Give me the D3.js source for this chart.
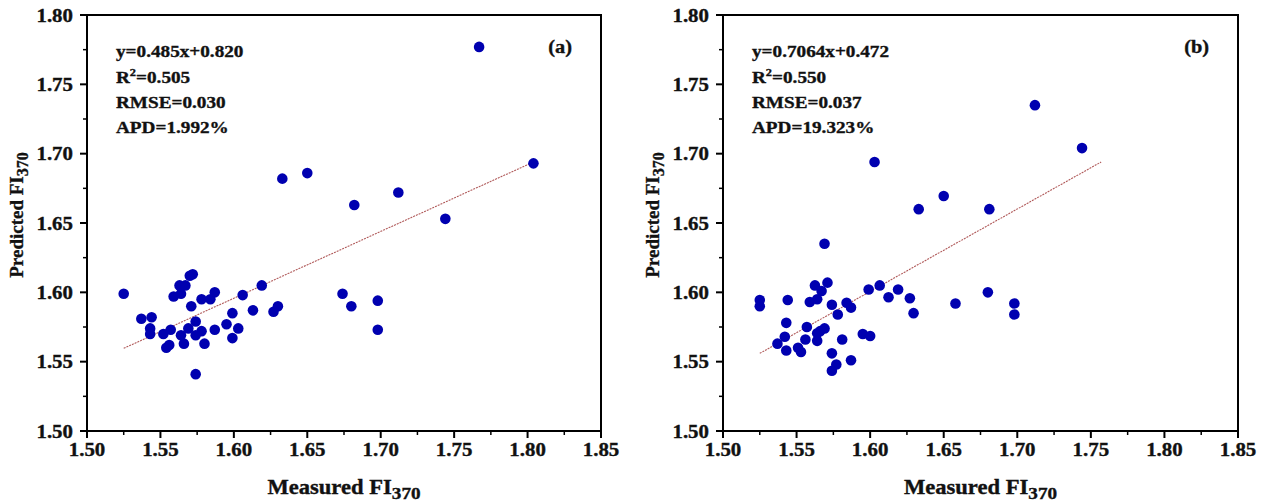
<!DOCTYPE html>
<html>
<head>
<meta charset="utf-8">
<script src="https://cdn.jsdelivr.net/npm/d3@7"></script>
<style>
  html, body { margin: 0; padding: 0; background: #fff; }
  svg { display: block; }
  text { font-family: "Liberation Serif", "Times New Roman", serif; font-weight: bold; fill: #111; stroke: #111; stroke-width: 0.35; }
</style>
</head>
<body>
<svg id="chart" width="1263" height="504"></svg>
<script>
// ─── data ───
const ticks = [1.50, 1.55, 1.60, 1.65, 1.70, 1.75, 1.80, 1.85];
const yTicks = [1.50, 1.55, 1.60, 1.65, 1.70, 1.75, 1.80];

// panel (a): measured vs predicted FI370
const measA = [1.525, 1.537, 1.544, 1.543, 1.543, 1.552, 1.554, 1.556, 1.557, 1.559,
  1.563, 1.564, 1.567, 1.564, 1.566, 1.569, 1.570, 1.572, 1.571, 1.574,
  1.574, 1.574, 1.578, 1.578, 1.580, 1.584, 1.587, 1.587, 1.595, 1.599,
  1.603, 1.599, 1.606, 1.613, 1.619, 1.627, 1.630, 1.633, 1.650, 1.674,
  1.680, 1.682, 1.698, 1.698, 1.712, 1.744, 1.767, 1.804];
const predA = [1.599, 1.581, 1.582, 1.574, 1.570, 1.570, 1.560, 1.562, 1.573, 1.597,
  1.605, 1.599, 1.605, 1.569, 1.563, 1.574, 1.612, 1.613, 1.590, 1.579,
  1.569, 1.541, 1.595, 1.572, 1.563, 1.595, 1.600, 1.573, 1.577, 1.585,
  1.574, 1.567, 1.598, 1.587, 1.605, 1.586, 1.590, 1.682, 1.686, 1.599,
  1.590, 1.663, 1.594, 1.573, 1.672, 1.653, 1.777, 1.693];
const fitAx = [1.525, 1.804];
const fitAy = [1.5596, 1.694];
const statsA = ['y=0.485x+0.820', '0.505', 'RMSE=0.030', 'APD=1.992%'];

// panel (b)
const measB = [1.525, 1.525, 1.544, 1.543, 1.542, 1.537, 1.543, 1.551, 1.553, 1.556,
  1.557, 1.559, 1.5625, 1.564, 1.567, 1.564, 1.564, 1.566, 1.569, 1.571,
  1.574, 1.578, 1.574, 1.574, 1.577, 1.581, 1.584, 1.587, 1.587, 1.595,
  1.600, 1.599, 1.6065, 1.6125, 1.619, 1.627, 1.6295, 1.658, 1.680, 1.698,
  1.698, 1.569, 1.603, 1.633, 1.650, 1.681, 1.712, 1.744];
const predB = [1.5945, 1.590, 1.5945, 1.578, 1.568, 1.563, 1.558, 1.560, 1.557, 1.566,
  1.575, 1.593, 1.605, 1.595, 1.601, 1.565, 1.5705, 1.572, 1.574, 1.607,
  1.591, 1.584, 1.556, 1.5435, 1.548, 1.566, 1.5925, 1.589, 1.551, 1.570,
  1.5685, 1.602, 1.605, 1.5965, 1.602, 1.5957, 1.585, 1.592, 1.600, 1.592,
  1.584, 1.635, 1.694, 1.660, 1.6695, 1.660, 1.735, 1.704];
const fitBx = [1.525, 1.757];
const fitBy = [1.556, 1.694];
const statsB = ['y=0.7064x+0.472', '0.550', 'RMSE=0.037', 'APD=19.323%'];

const panels = [
  { tag: '(a)', meas: measA, pred: predA, fx: fitAx, fy: fitAy, stats: statsA, x0: 87, x1: 601 },
  { tag: '(b)', meas: measB, pred: predB, fx: fitBx, fy: fitBy, stats: statsB, x0: 723, x1: 1238 },
];

const svg = d3.select('#chart');
const yTop = 15, yBot = 431;
const SX = 1.13;  // the source figure is a little stretched horizontally

// text helper: places a label, stretched in x like the source
function label(g, x, y, size, anchor) {
  return g.append('text')
    .attr('transform', `translate(${x},${y}) scale(${SX},1)`)
    .attr('font-size', size)
    .attr('text-anchor', anchor || 'start');
}

panels.forEach(p => {
  const x = d3.scaleLinear().domain([1.50, 1.85]).range([p.x0, p.x1]);
  const y = d3.scaleLinear().domain([1.50, 1.80]).range([yBot, yTop]);
  const g = svg.append('g');

  // fit line
  g.append('line')
    .attr('x1', x(p.fx[0])).attr('y1', y(p.fy[0]))
    .attr('x2', x(p.fx[1])).attr('y2', y(p.fy[1]))
    .attr('stroke', '#b05a5a').attr('stroke-width', 1.1)
    .attr('stroke-dasharray', '2,1');

  // points
  g.append('g').selectAll('circle')
    .data(p.meas.map((m, i) => [m, p.pred[i]]))
    .enter().append('circle')
    .attr('cx', d => x(d[0])).attr('cy', d => y(d[1]))
    .attr('r', 5.3).attr('fill', '#0000b0');

  // frame
  g.append('rect')
    .attr('x', p.x0).attr('y', yTop)
    .attr('width', p.x1 - p.x0).attr('height', yBot - yTop)
    .attr('fill', 'none').attr('stroke', '#000').attr('stroke-width', 2);

  // bottom axis: major + minor ticks
  const xMinor = d3.range(1.525, 1.85, 0.05);
  g.selectAll('.xmaj').data(ticks).enter().append('line')
    .attr('x1', d => x(d)).attr('x2', d => x(d))
    .attr('y1', yBot).attr('y2', yBot + 7)
    .attr('stroke', '#000').attr('stroke-width', 2);
  g.selectAll('.xmin').data(xMinor).enter().append('line')
    .attr('x1', d => x(d)).attr('x2', d => x(d))
    .attr('y1', yBot).attr('y2', yBot + 4)
    .attr('stroke', '#000').attr('stroke-width', 1.5);
  ticks.forEach(t => label(g, x(t), yBot + 25, 18.5, 'middle').text(t.toFixed(2)));

  // left axis
  const yMinor = d3.range(1.525, 1.80, 0.05);
  g.selectAll('.ymaj').data(yTicks).enter().append('line')
    .attr('x1', p.x0 - 7).attr('x2', p.x0)
    .attr('y1', d => y(d)).attr('y2', d => y(d))
    .attr('stroke', '#000').attr('stroke-width', 2);
  g.selectAll('.ymin').data(yMinor).enter().append('line')
    .attr('x1', p.x0 - 4).attr('x2', p.x0)
    .attr('y1', d => y(d)).attr('y2', d => y(d))
    .attr('stroke', '#000').attr('stroke-width', 1.5);
  yTicks.forEach(t => label(g, p.x0 - 14, y(t) + 6.5, 18.5, 'end').text(t.toFixed(2)));

  // axis titles
  const xt = label(g, (p.x0 + p.x1) / 2, 494, 20, 'middle');
  xt.append('tspan').text('Measured FI');
  xt.append('tspan').attr('font-size', 17).attr('dy', 5).text('370');

  const yt = g.append('text')
    .attr('transform', `translate(${p.x0 - 64},${(yTop + yBot) / 2 - 8}) rotate(-90)`)
    .attr('font-size', 19).attr('text-anchor', 'middle');
  yt.append('tspan').text('Predicted FI');
  yt.append('tspan').attr('font-size', 16).attr('dy', 5).text('370');

  // stats block
  const sx = p.x0 + 29;
  label(g, sx, 57, 17).text(p.stats[0]);
  const r2 = label(g, sx, 83, 17);
  r2.append('tspan').text('R');
  r2.append('tspan').attr('font-size', 11).attr('dy', -7).text('2');
  r2.append('tspan').attr('dy', 7).text('=' + p.stats[1]);
  label(g, sx, 108, 17).text(p.stats[2]);
  label(g, sx, 133, 17).text(p.stats[3]);

  label(g, p.x1 - 29, 53, 18, 'end').text(p.tag);
});
</script>
</body>
</html>
